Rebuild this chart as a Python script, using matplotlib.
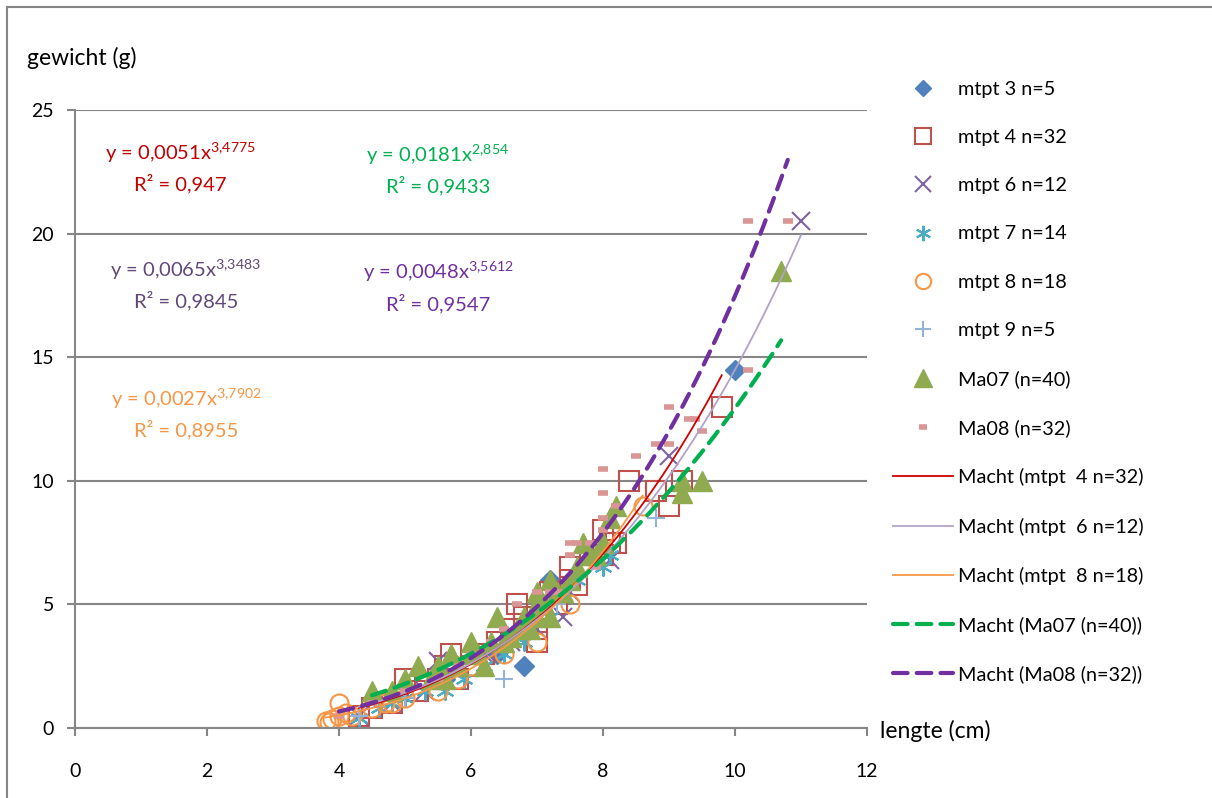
import matplotlib
matplotlib.use("Agg")
import matplotlib.pyplot as plt
import numpy as np
from matplotlib.lines import Line2D

plt.rcParams['font.family'] = ['Lato', 'DejaVu Sans']
plt.rcParams['mathtext.fontset'] = 'custom'
plt.rcParams['mathtext.rm'] = 'Lato'

# scatter series (lengte cm, gewicht g)
mtpt3_x = [5.6, 6.4, 6.8, 7.2, 10.0]
mtpt3_y = [2.0, 3.0, 2.5, 6.0, 14.5]

mtpt4_x = [4.3, 4.5, 4.8, 5.0, 5.2, 5.5, 5.6, 5.7, 5.8, 6.0, 6.2, 6.4, 6.6, 6.7, 6.8, 7.0,
           7.0, 7.2, 7.3, 7.5, 7.5, 7.6, 7.8, 8.0, 8.0, 8.1, 8.2, 8.4, 8.8, 9.0, 9.2, 9.8]
mtpt4_y = [0.5, 0.8, 1.0, 2.0, 1.5, 2.0, 2.5, 3.0, 2.0, 2.5, 3.0, 3.5, 4.0, 5.0, 4.5, 3.5,
           4.0, 5.5, 5.0, 6.5, 6.0, 5.8, 7.0, 8.0, 7.0, 7.5, 7.5, 10.0, 9.6, 9.0, 10.0, 13.0]

mtpt6_x = [4.3, 4.8, 5.3, 5.5, 6.2, 6.6, 7.0, 7.4, 7.5, 8.1, 9.0, 11.0]
mtpt6_y = [0.5, 1.0, 1.5, 2.7, 3.0, 3.5, 4.0, 4.5, 5.5, 6.8, 11.0, 20.5]

mtpt7_x = [4.3, 4.6, 4.8, 5.0, 5.3, 5.6, 5.9, 6.2, 6.5, 6.8, 7.2, 7.6, 8.0, 8.1]
mtpt7_y = [0.4, 0.8, 1.0, 1.2, 1.5, 1.5, 2.0, 2.5, 3.0, 3.5, 4.5, 6.0, 6.5, 7.0]

mtpt8_x = [3.8, 3.85, 3.9, 4.0, 4.0, 4.1, 4.2, 4.5, 4.7, 4.8, 5.0, 5.5, 5.8, 6.0, 6.5, 7.0, 7.5, 8.6]
mtpt8_y = [0.3, 0.25, 0.35, 0.5, 1.0, 0.6, 0.5, 0.8, 1.0, 1.0, 1.2, 1.5, 2.0, 2.5, 3.0, 3.5, 5.0, 9.0]

mtpt9_x = [4.3, 5.0, 6.5, 7.3, 8.8]
mtpt9_y = [0.5, 1.2, 2.0, 5.0, 8.5]

ma07_x = [4.5, 4.8, 5.0, 5.2, 5.4, 5.5, 5.6, 5.7, 5.8, 6.0, 6.1, 6.2, 6.3, 6.4, 6.5, 6.6, 6.7, 6.8, 6.9, 7.0,
          7.0, 7.1, 7.2, 7.2, 7.3, 7.4, 7.5, 7.6, 7.7, 7.8, 7.9, 8.0, 8.1, 8.2, 7.0, 6.0, 9.2, 9.2, 9.5, 10.7]
ma07_y = [1.5, 1.5, 2.0, 2.5, 2.0, 2.5, 2.0, 3.0, 2.5, 3.5, 3.0, 2.5, 3.5, 4.5, 3.5, 3.7, 4.0, 4.5, 4.0, 5.5,
          4.5, 5.0, 6.0, 4.5, 5.5, 5.5, 6.0, 6.5, 7.5, 7.0, 7.0, 7.5, 8.5, 9.0, 5.0, 3.0, 10.0, 9.5, 10.0, 18.5]

ma08_x = [4.0, 4.5, 5.0, 5.5, 6.0, 6.5, 6.7, 7.0, 7.2, 7.3, 7.5, 7.5, 7.6, 7.8, 7.9, 8.0,
          8.0, 8.0, 8.0, 8.2, 8.5, 8.8, 9.0, 9.0, 9.3, 9.4, 9.5, 10.2, 10.2, 10.8, 6.3, 5.8]
ma08_y = [0.5, 1.0, 1.5, 2.0, 3.0, 4.0, 5.0, 5.5, 5.5, 5.5, 7.0, 7.5, 7.5, 7.5, 6.5, 8.0,
          8.5, 9.5, 10.5, 9.0, 11.0, 11.5, 11.5, 13.0, 12.5, 12.5, 12.0, 14.5, 20.5, 20.5, 3.5, 2.5]

# power trendlines y = a*x^b
fit_names = ["Macht (mtpt  4 n=32)", "Macht (mtpt  6 n=12)", "Macht (mtpt  8 n=18)",
             "Macht (Ma07 (n=40))", "Macht (Ma08 (n=32))"]
fit_a = [0.0051, 0.0065, 0.0027, 0.0181, 0.0048]
fit_b = [3.4775, 3.3483, 3.7902, 2.854, 3.5612]
fit_r2 = ["0,947", "0,9845", "0,8955", "0,9433", "0,9547"]
fit_a_txt = ["0,0051", "0,0065", "0,0027", "0,0181", "0,0048"]
fit_b_txt = ["3{,}4775", "3{,}3483", "3{,}7902", "2{,}854", "3{,}5612"]

fig = plt.figure(figsize=(12.12, 7.98), dpi=100)
ax = fig.add_axes([0.0619, 0.0877, 0.6534, 0.7743])

grey = "#868686"
ax.plot(mtpt3_x, mtpt3_y, ls="none", marker="D", ms=10, color="#4F81BD", label="mtpt 3 n=5")
ax.plot(mtpt4_x, mtpt4_y, ls="none", marker="s", ms=14, mfc="none", mec="#C0504D", mew=1.5,
        label="mtpt 4 n=32")
ax.plot(mtpt6_x, mtpt6_y, ls="none", marker="x", ms=13, mec="#8064A2", mew=1.5, label="mtpt 6 n=12")
ax.plot(mtpt7_x, mtpt7_y, ls="none", marker=(6, 2, 0), ms=13, mec="#4BACC6", mew=1.5,
        label="mtpt 7 n=14")
ax.plot(mtpt8_x, mtpt8_y, ls="none", marker="o", ms=13, mfc="none", mec="#F79646", mew=1.5,
        label="mtpt 8 n=18")
ax.plot(mtpt9_x, mtpt9_y, ls="none", marker="+", ms=13, mec="#95B3D7", mew=1.5, label="mtpt 9 n=5")
ax.plot(ma07_x, ma07_y, ls="none", marker="^", ms=15, color="#8FAA4F", label="Ma07 (n=40)")
ax.plot(ma08_x, ma08_y, ls="none", marker="_", ms=7, mew=4, mec="#D99694", label="Ma08 (n=32)")

fit_x = [mtpt4_x, mtpt6_x, mtpt8_x, ma07_x, ma08_x]
fit_colors = ["#D00000", "#B3A2C7", "#F79646", "#00B050", "#7030A0"]
fit_lw = [1.3, 1.3, 1.3, 3.0, 3.0]
fit_dash = [None, None, None, (3.5, 2.2), (3.5, 2.2)]
for name, xs, a, b, c, lw, d in zip(fit_names, fit_x, fit_a, fit_b, fit_colors, fit_lw, fit_dash):
    xx = np.linspace(min(xs), max(xs), 200)
    line, = ax.plot(xx, a * xx ** b, color=c, lw=lw, label=name)
    if d is not None:
        line.set_dashes(d)
        line.set_dash_capstyle("round")

# trendline equations
eq_pos = [(1.6, 23.3), (1.68, 18.55), (1.68, 13.35), (5.5, 23.2), (5.5, 18.45)]
eq_colors = ["#C00000", "#60497A", "#F79646", "#00B050", "#7030A0"]
for (px, py), c, at, bt, r2 in zip(eq_pos, eq_colors, fit_a_txt, fit_b_txt, fit_r2):
    ax.text(px, py, "y = " + at + "x$^{\\mathregular{" + bt + "}}$", color=c, fontsize=14.5,
            ha="center", va="center")
    ax.text(px, py - 1.27, "R² = " + r2, color=c, fontsize=14.5, ha="center", va="center")

ax.set_xlim(0, 12)
ax.set_ylim(0, 25)
ax.set_xticks(range(0, 13, 2))
ax.set_yticks(range(0, 26, 5))
ax.yaxis.grid(True, color=grey, lw=1.5)
ax.set_axisbelow(True)
for s in ["top", "right"]:
    ax.spines[s].set_visible(False)
for s in ["left", "bottom"]:
    ax.spines[s].set_color(grey)
    ax.spines[s].set_linewidth(1.5)
ax.tick_params(axis="both", colors=grey, width=1.5, length=6, labelsize=14, labelcolor="black")
ax.tick_params(axis="x", pad=19)
ax.tick_params(axis="y", pad=9)

fig.text(27 / 1212, 1 - 58 / 798, "gewicht (g)", fontsize=16.5, ha="left", va="center")
fig.text(880 / 1212, 1 - 731 / 798, "lengte (cm)", fontsize=16.5, ha="left", va="center")

# outer chart border (left and top visible)
fig.add_artist(Line2D([7 / 1212, 7 / 1212], [0, 1 - 7 / 798], color=grey, lw=1.5))
fig.add_artist(Line2D([7 / 1212, 1], [1 - 7 / 798, 1 - 7 / 798], color=grey, lw=1.5))

ax.legend(loc="upper left", bbox_to_anchor=(885 / 1212, 1 - 73 / 798),
          bbox_transform=fig.transFigure, frameon=False, fontsize=14.3,
          handlelength=3.0, handletextpad=0.3, labelspacing=1.57, borderaxespad=0,
          markerscale=0.85)

fig.savefig("out.png", dpi=100)
